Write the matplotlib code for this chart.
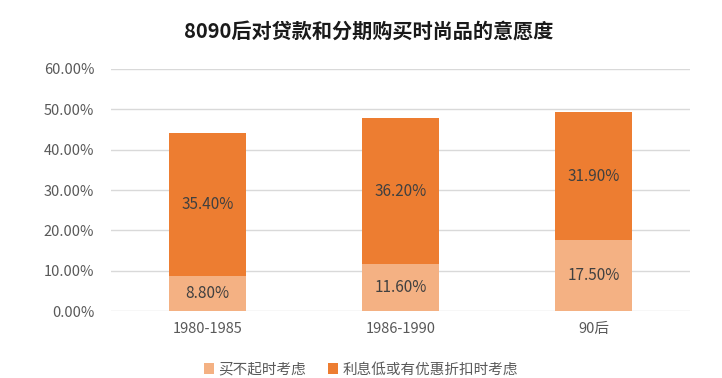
import matplotlib.pyplot as plt
from matplotlib.ticker import FuncFormatter

plt.rcParams['font.family'] = ['Noto Sans CJK SC', 'DejaVu Sans']

# data
categorias = ["1980-1985", "1986-1990", "90后"]
nao_pode_pagar = [8.80, 11.60, 17.50]
juros_baixos = [35.40, 36.20, 31.90]
series_nomes = ["买不起时考虑", "利息低或有优惠折扣时考虑"]
cores = ["#F4B183", "#ED7D31"]

fig = plt.figure(figsize=(7.22, 3.78), dpi=100)
ax = fig.add_axes([0.1537, 0.1772, 0.802, 0.6403])

x = range(len(categorias))
largura = 0.40
ax.bar(x, nao_pode_pagar, largura, color=cores[0], label=series_nomes[0], zorder=3)
ax.bar(x, juros_baixos, largura, bottom=nao_pode_pagar, color=cores[1], label=series_nomes[1], zorder=3)

# data labels
for i in x:
    ax.text(i, nao_pode_pagar[i] / 2, "%.2f%%" % nao_pode_pagar[i], ha="center", va="center",
            fontsize=11, color="#404040", zorder=4)
    ax.text(i, nao_pode_pagar[i] + juros_baixos[i] / 2, "%.2f%%" % juros_baixos[i], ha="center",
            va="center", fontsize=11, color="#404040", zorder=4)

ax.set_xlim(-0.5, 2.5)
ax.set_ylim(0, 60)
ax.set_yticks(range(0, 61, 10))
ax.yaxis.set_major_formatter(FuncFormatter(lambda v, p: "%.2f%%" % v))
ax.set_xticks(list(x))
ax.set_xticklabels(categorias)
ax.tick_params(length=0, labelsize=10.5, labelcolor="#595959", pad=8)
ax.tick_params(axis="y", pad=12)
ax.grid(axis="y", color="#D9D9D9", linewidth=1, zorder=0)
for s in ax.spines.values():
    s.set_visible(False)

fig.text(0.51, 0.915, "8090后对贷款和分期购买时尚品的意愿度", ha="center", va="center",
         fontsize=14.5, fontweight="bold", color="#1a1a1a")

fig.legend(loc="center", bbox_to_anchor=(0.5, 0.022), ncol=2, frameon=False,
           fontsize=10.5, labelcolor="#595959", handlelength=0.7, handleheight=0.7,
           handletextpad=0.3, columnspacing=1.5)

plt.savefig("out.png", dpi=100)
